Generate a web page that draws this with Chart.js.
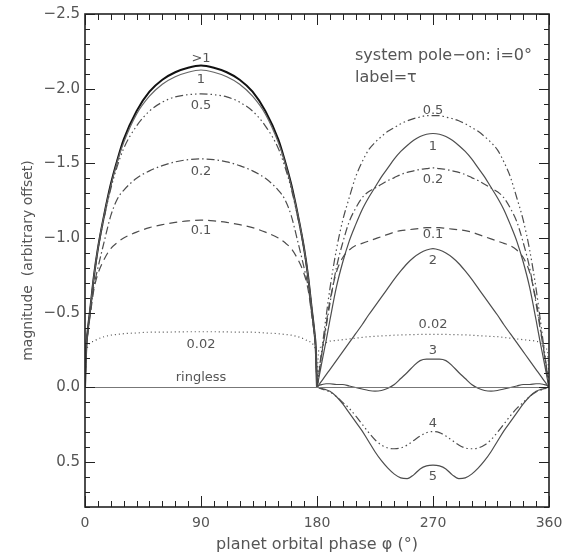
<!DOCTYPE html>
<html>
<head>
<meta charset="utf-8">
<script src="https://cdn.jsdelivr.net/npm/chart.js@4.4.1/dist/chart.umd.min.js"></script>
<style>
  html, body { margin: 0; padding: 0; background: #fff; }
</style>
</head>
<body>
<canvas id="myChart" width="571" height="556"></canvas>
<script>

// data (magnitude, negative = brighter, axis reversed)

const leftPhase = [0, 1, 2, 4, 7, 10, 15, 20, 25, 30, 40, 50, 60, 70, 80, 90,
  100, 110, 120, 130, 140, 150, 155, 160, 165, 170, 173, 176, 178, 179, 180];

const rightPhase = [180, 181, 182, 184, 187, 190, 195, 200, 205, 210, 215, 220, 225, 230, 235, 240,
  245, 250, 255, 260, 265, 270, 275, 280, 285, 290, 295, 300, 305, 310, 315, 320, 325, 330,
  335, 340, 345, 350, 353, 356, 358, 359, 360];

// left half (0-180)
const tauOver1Left = [0, -0.27, -0.37, -0.52, -0.75, -0.93, -1.16, -1.36, -1.52, -1.66, -1.85, -1.98, -2.06, -2.11, -2.14, -2.155,
  -2.14, -2.11, -2.06, -1.98, -1.85, -1.66, -1.52, -1.36, -1.16, -0.93, -0.75, -0.52, -0.37, -0.27, 0];
const tau1Left = [0, -0.27, -0.37, -0.52, -0.75, -0.93, -1.16, -1.35, -1.51, -1.64, -1.83, -1.95, -2.03, -2.08, -2.11, -2.125,
  -2.11, -2.08, -2.03, -1.95, -1.83, -1.64, -1.51, -1.35, -1.16, -0.93, -0.75, -0.52, -0.37, -0.27, 0];
const tau05Left = [0, -0.27, -0.37, -0.52, -0.74, -0.92, -1.14, -1.33, -1.48, -1.60, -1.75, -1.85, -1.91, -1.945, -1.96, -1.965,
  -1.96, -1.945, -1.91, -1.85, -1.75, -1.60, -1.48, -1.33, -1.14, -0.92, -0.74, -0.52, -0.37, -0.27, 0];
const tau02Left = [0, -0.26, -0.36, -0.5, -0.68, -0.80, -0.98, -1.15, -1.26, -1.32, -1.40, -1.45, -1.485, -1.51, -1.525, -1.53,
  -1.525, -1.51, -1.485, -1.45, -1.40, -1.32, -1.26, -1.15, -0.98, -0.80, -0.68, -0.5, -0.36, -0.26, 0];
const tau01Left = [0, -0.26, -0.35, -0.48, -0.66, -0.76, -0.86, -0.93, -0.97, -1.0, -1.04, -1.07, -1.09, -1.105, -1.115, -1.12,
  -1.115, -1.105, -1.09, -1.07, -1.04, -1.0, -0.97, -0.93, -0.86, -0.76, -0.66, -0.48, -0.35, -0.26, 0];
const tau002Left = [0, -0.24, -0.27, -0.30, -0.31, -0.325, -0.34, -0.35, -0.355, -0.36, -0.365, -0.37, -0.37, -0.372, -0.373, -0.373,
  -0.373, -0.372, -0.37, -0.37, -0.365, -0.36, -0.355, -0.35, -0.34, -0.325, -0.31, -0.30, -0.27, -0.24, 0];

// right half (180-360)
const tau05Right = [0, -0.07, -0.14, -0.27, -0.47, -0.66, -0.92, -1.12, -1.27, -1.41, -1.51, -1.59, -1.64, -1.68, -1.715, -1.74,
  -1.765, -1.785, -1.80, -1.81, -1.82, -1.82, -1.82, -1.81, -1.80, -1.785, -1.765, -1.74, -1.715, -1.68, -1.64, -1.59, -1.51, -1.41,
  -1.27, -1.12, -0.92, -0.66, -0.47, -0.27, -0.14, -0.07, 0];
const tau1Right = [0, -0.045, -0.09, -0.18, -0.31, -0.45, -0.67, -0.84, -0.98, -1.09, -1.19, -1.27, -1.34, -1.41, -1.47, -1.53,
  -1.58, -1.62, -1.655, -1.68, -1.695, -1.70, -1.695, -1.68, -1.655, -1.62, -1.58, -1.53, -1.47, -1.41, -1.34, -1.27, -1.19, -1.09,
  -0.98, -0.84, -0.67, -0.45, -0.31, -0.18, -0.09, -0.045, 0];
const tau02Right = [0, -0.06, -0.12, -0.24, -0.40, -0.56, -0.80, -0.97, -1.11, -1.20, -1.27, -1.31, -1.335, -1.36, -1.385, -1.405,
  -1.425, -1.44, -1.45, -1.46, -1.465, -1.47, -1.465, -1.46, -1.45, -1.44, -1.425, -1.405, -1.385, -1.36, -1.335, -1.31, -1.27, -1.20,
  -1.11, -0.97, -0.80, -0.56, -0.40, -0.24, -0.12, -0.06, 0];
const tau01Right = [0, -0.065, -0.13, -0.25, -0.42, -0.58, -0.77, -0.87, -0.92, -0.95, -0.965, -0.98, -0.995, -1.01, -1.025, -1.04,
  -1.05, -1.055, -1.06, -1.065, -1.07, -1.07, -1.07, -1.065, -1.06, -1.055, -1.05, -1.04, -1.025, -1.01, -0.995, -0.98, -0.965, -0.95,
  -0.92, -0.87, -0.77, -0.58, -0.42, -0.25, -0.13, -0.065, 0];
const tau2Right = [0, -0.012, -0.024, -0.048, -0.085, -0.12, -0.18, -0.24, -0.30, -0.36, -0.42, -0.485, -0.545, -0.605, -0.665, -0.725,
  -0.78, -0.83, -0.87, -0.90, -0.92, -0.93, -0.92, -0.90, -0.87, -0.83, -0.78, -0.725, -0.665, -0.605, -0.545, -0.485, -0.42, -0.36,
  -0.30, -0.24, -0.18, -0.12, -0.085, -0.048, -0.024, -0.012, 0];
const tau002Right = [0, -0.22, -0.26, -0.28, -0.30, -0.31, -0.315, -0.32, -0.325, -0.33, -0.335, -0.34, -0.342, -0.345, -0.347, -0.35,
  -0.352, -0.353, -0.354, -0.355, -0.355, -0.355, -0.355, -0.355, -0.354, -0.353, -0.352, -0.35, -0.347, -0.345, -0.342, -0.34, -0.335, -0.33,
  -0.325, -0.32, -0.315, -0.31, -0.30, -0.28, -0.26, -0.22, 0];
const tau3Right = [0, -0.01, -0.015, -0.02, -0.025, -0.025, -0.02, -0.02, -0.01, 0.0, 0.01, 0.02, 0.025, 0.02, 0.005, -0.02,
  -0.06, -0.10, -0.145, -0.18, -0.19, -0.19, -0.19, -0.18, -0.145, -0.10, -0.06, -0.02, 0.005, 0.02, 0.025, 0.02, 0.01, 0.0,
  -0.01, -0.02, -0.02, -0.025, -0.025, -0.02, -0.015, -0.01, 0];
const tau4Right = [0, 0.0, 0.004, 0.01, 0.02, 0.03, 0.06, 0.10, 0.14, 0.19, 0.245, 0.30, 0.35, 0.385, 0.405, 0.41,
  0.405, 0.385, 0.355, 0.325, 0.302, 0.295, 0.302, 0.325, 0.355, 0.385, 0.405, 0.41, 0.405, 0.385, 0.35, 0.30, 0.245, 0.19,
  0.14, 0.10, 0.06, 0.03, 0.02, 0.01, 0.004, 0.0, 0];
const tau5Right = [0, 0.0, 0.003, 0.008, 0.015, 0.025, 0.06, 0.11, 0.17, 0.23, 0.29, 0.36, 0.43, 0.49, 0.54, 0.58,
  0.605, 0.61, 0.585, 0.545, 0.525, 0.52, 0.525, 0.545, 0.585, 0.61, 0.605, 0.58, 0.54, 0.49, 0.43, 0.36, 0.29, 0.23,
  0.17, 0.11, 0.06, 0.025, 0.015, 0.008, 0.003, 0.0, 0];

const ringlessPhase = [0, 360];
const ringlessMag = [0, 0];

const xTickLabels = [0, 90, 180, 270, 360];
const yTickLabels = [-2.5, -2.0, -1.5, -1.0, -0.5, 0.0, 0.5];

// curve labels (tau) at [phase, magnitude]
const labelText = ['>1', '1', '0.5', '0.2', '0.1', '0.02', 'ringless',
  '0.5', '1', '0.2', '0.1', '2', '0.02', '3', '4', '5'];
const labelPhase = [90, 90, 90, 90, 90, 90, 90, 270, 270, 270, 270, 270, 270, 270, 270, 270];
const labelMag = [-2.2, -2.06, -1.89, -1.446, -1.05, -0.287, -0.066,
  -1.85, -1.61, -1.39, -1.02, -0.85, -0.42, -0.25, 0.243, 0.596];

const GREY = '#4d4d4d';
const TXT = '#555';
const FONT = 'DejaVu Sans';

const DOT = [1, 3];
const DASH = [8, 5];
const DASHDOT = [8, 3, 1.5, 3];
const DASH3DOT = [8, 3, 1.5, 3, 1.5, 3, 1.5, 3];

function curve(phase, mags, dash, color, width) {
  return {
    data: phase.map((p, i) => ({ x: p, y: mags[i] })),
    borderColor: color || GREY,
    borderWidth: width || 1.2,
    borderDash: dash || [],
    pointRadius: 0,
    cubicInterpolationMode: 'monotone',
    fill: false
  };
}

const datasets = [
  curve(ringlessPhase, ringlessMag, null, '#777', 1.2),
  curve(leftPhase, tau002Left, DOT),
  curve(leftPhase, tau01Left, DASH),
  curve(leftPhase, tau02Left, DASHDOT),
  curve(leftPhase, tau05Left, DASH3DOT),
  curve(leftPhase, tau1Left, null, '#666', 1.2),
  curve(leftPhase, tauOver1Left, null, '#111', 2),
  curve(rightPhase, tau002Right, DOT),
  curve(rightPhase, tau01Right, DASH),
  curve(rightPhase, tau02Right, DASHDOT),
  curve(rightPhase, tau05Right, DASH3DOT),
  curve(rightPhase, tau1Right),
  curve(rightPhase, tau2Right),
  curve(rightPhase, tau3Right),
  curve(rightPhase, tau4Right, DASH3DOT),
  curve(rightPhase, tau5Right)
];

// frame, inward ticks on all four sides, curve labels and note
const decorations = {
  id: 'decorations',
  afterDatasetsDraw(chart) {
    const { ctx, chartArea: a, scales: { x, y } } = chart;
    ctx.save();
    ctx.strokeStyle = '#222';
    ctx.lineWidth = 1;
    ctx.beginPath();
    for (let v = 0; v <= 360; v += 10) {
      const len = v % 90 === 0 ? 11 : 6;
      const px = Math.round(x.getPixelForValue(v)) + 0.5;
      ctx.moveTo(px, a.bottom); ctx.lineTo(px, a.bottom - len);
      ctx.moveTo(px, a.top); ctx.lineTo(px, a.top + len);
    }
    for (let i = -25; i <= 8; i++) {
      const len = i % 5 === 0 ? 10 : 5;
      const py = Math.round(y.getPixelForValue(i / 10)) + 0.5;
      ctx.moveTo(a.left, py); ctx.lineTo(a.left + len, py);
      ctx.moveTo(a.right, py); ctx.lineTo(a.right - len, py);
    }
    ctx.stroke();
    ctx.lineWidth = 1.6;
    ctx.strokeRect(a.left, a.top, a.right - a.left, a.bottom - a.top);

    ctx.fillStyle = TXT;
    ctx.font = '13px "' + FONT + '"';
    ctx.textAlign = 'center';
    ctx.textBaseline = 'middle';
    labelText.forEach((t, i) => {
      ctx.fillText(t, x.getPixelForValue(labelPhase[i]), y.getPixelForValue(labelMag[i]));
    });

    ctx.font = '16px "' + FONT + '"';
    ctx.textAlign = 'left';
    ctx.fillText('system pole\u2212on: i=0\u00b0', a.left + 270, a.top + 42);
    ctx.fillText('label=\u03c4', a.left + 270, a.top + 64);
    ctx.restore();
  }
};

const ctx = document.getElementById('myChart');

new Chart(ctx, {
  type: 'line',
  data: { datasets: datasets },
  options: {
    responsive: false,
    animation: false,
    events: [],
    layout: { padding: { top: 8, right: 22, left: 0, bottom: 0 } },
    plugins: { legend: { display: false }, tooltip: { enabled: false } },
    scales: {
      x: {
        type: 'linear',
        min: 0,
        max: 360,
        grid: { display: false, drawTicks: false },
        border: { display: false },
        afterBuildTicks: s => { s.ticks = xTickLabels.map(v => ({ value: v })); },
        afterFit: s => { s.height = 49; },
        ticks: { color: TXT, font: { family: FONT, size: 14 }, padding: 8, maxRotation: 0, autoSkip: false },
        title: {
          display: true,
          text: 'planet orbital phase \u03c6 (\u00b0)',
          color: TXT,
          font: { family: FONT, size: 16 },
          padding: { top: 0, bottom: 2 }
        }
      },
      y: {
        type: 'linear',
        reverse: true,
        min: -2.5,
        max: 0.8,
        grid: { display: false, drawTicks: false },
        border: { display: false },
        afterBuildTicks: s => { s.ticks = yTickLabels.map(v => ({ value: v })); },
        afterFit: s => { s.width = 85; },
        ticks: {
          color: TXT,
          font: { family: FONT, size: 15 },
          padding: 5,
          callback: v => v.toFixed(1).replace('-', '\u2212')
        },
        title: {
          display: true,
          text: 'magnitude  (arbitrary offset)',
          color: TXT,
          font: { family: FONT, size: 14 },
          padding: { top: 20, bottom: 0 }
        }
      }
    }
  },
  plugins: [decorations]
});

</script>
</body>
</html>
